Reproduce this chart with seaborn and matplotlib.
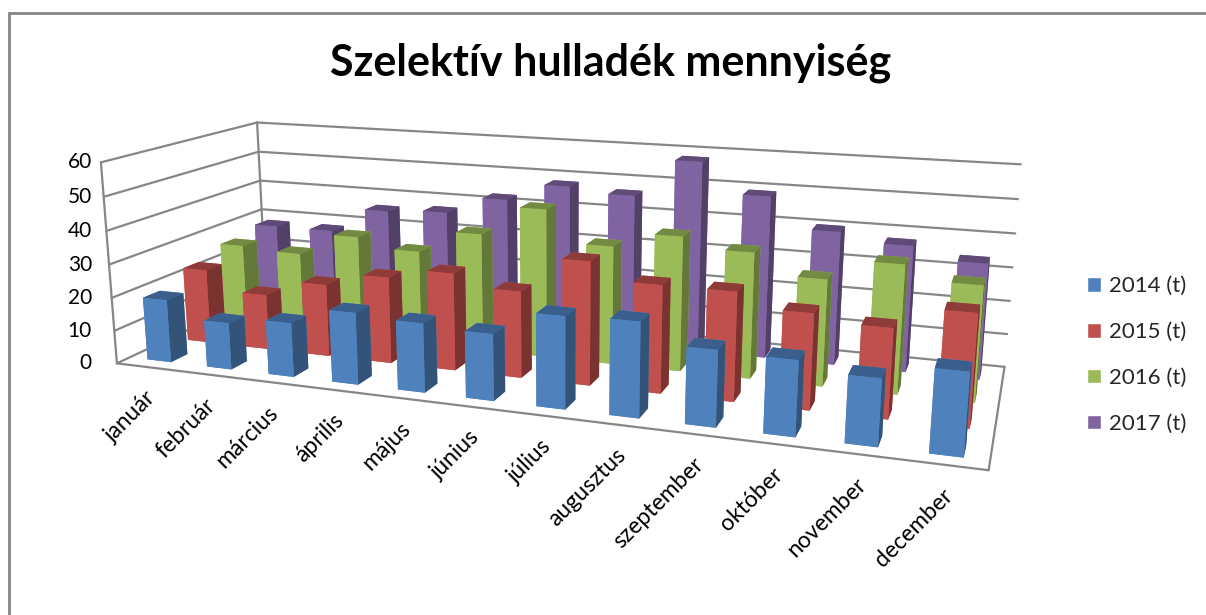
import numpy as np
import matplotlib
matplotlib.use('Agg')
import matplotlib.pyplot as plt
import seaborn as sns
from matplotlib.patches import Patch, Rectangle
from mpl_toolkits.mplot3d import proj3d

# 데이터
months = ['január', 'február', 'március', 'április', 'május', 'június', 'július',
          'augusztus', 'szeptember', 'október', 'november', 'december']
series = ['2014 (t)', '2015 (t)', '2016 (t)', '2017 (t)']
t2014 = [19, 14, 16, 21, 20, 19, 26, 26.5, 21, 20.5, 18, 22]
t2015 = [23, 17, 22, 26, 29, 25.5, 36, 31, 31, 27, 25, 31]
t2016 = [26, 25, 32, 29, 36, 45, 35.5, 40, 37, 31, 37, 33]
t2017 = [28, 28, 36, 37, 42.5, 48, 46.5, 58, 49, 40, 37.5, 34]
values = [t2014, t2015, t2016, t2017]
yticks = [0, 10, 20, 30, 40, 50, 60]

sns.set_theme(style='white')
plt.rcParams['font.family'] = ['Lato', 'DejaVu Sans']
palette = sns.color_palette(['#4F81BD', '#C0504D', '#9BBB59', '#8064A2'])

W, H = 1206, 615
fig = plt.figure(figsize=(W / 100, H / 100), dpi=100)

# 3D 축 (픽셀 위치를 figure 비율로)
S = 900
cx, cy = 559, 349
left = (cx - S * 0.95 / 1.85) / W
bottom = (cy - S * 0.95 / 1.85) / H
ax = fig.add_axes([left, bottom, S / W, S / H], projection='3d', computed_zorder=False)
ax.set_box_aspect((1, 0.34, 0.243))
ax.view_init(elev=14, azim=-70.5)
ax.set_proj_type('persp', focal_length=0.29)
ax.set_xlim(0, 12)
ax.set_ylim(0, 4)
ax.set_zlim(0, 60)
ax.set_axis_off()
ax.patch.set_alpha(0)

# 벽 / 바닥 선
line = dict(color='#868686', lw=1.6, zorder=1, clip_on=False)
for v in yticks:
    ax.plot([0, 0], [0, 4], [v, v], **line)
    ax.plot([0, 12], [4, 4], [v, v], **line)
ax.plot([0, 12], [0, 0], [0, 0], **line)
ax.plot([12, 12], [0, 4], [0, 0], **line)
ax.plot([0, 0], [0, 0], [0, 60], **line)
ax.plot([0, 0], [4, 4], [0, 60], **line)

# 막대 (뒤에서 앞으로)
bw = 0.4
order = 2
for s in [3, 2, 1, 0]:
    c = np.array(palette[s])
    faces = [c, c * 0.74, c, c, c, c * 0.64]
    for i in range(12):
        ax.bar3d(i + 0.5 - bw / 2, s + 0.5 - bw / 2, 0, bw, bw, values[s][i],
                 color=faces, shade=False, linewidth=0, zorder=order, clip_on=False)
        order += 1

fig.canvas.draw()

def to_fig(x, y, z):
    # 3D 좌표 -> figure 비율
    x2, y2, _ = proj3d.proj_transform(x, y, z, ax.get_proj())
    px = ax.transData.transform((x2, y2))
    return px[0] / W, px[1] / H

# 눈금 라벨
for i, m in enumerate(months):
    fx, fy = to_fig(i + 0.5, 0, 0)
    fig.text(fx - 2 / W, fy - 20 / H, m, rotation=45, ha='right', va='top', rotation_mode='anchor',
             fontsize=16.5, color='black')

for v in yticks:
    fx, fy = to_fig(0, 0, v)
    fig.text(92 / W, fy, str(v), ha='right', va='center', fontsize=15, color='black')

fig.text(611 / W, 1 - 63 / H, 'Szelektív hulladék mennyiség', ha='center', va='center',
         fontsize=31, fontweight='bold', color='black')

handles = [Patch(facecolor=palette[i], label=series[i]) for i in range(4)]
fig.legend(handles=handles, loc='center left', bbox_to_anchor=(1078 / W, 1 - 355 / H), frameon=False,
           fontsize=16, handlelength=0.63, handleheight=0.63, labelspacing=1.16, handletextpad=0.36,
           borderaxespad=0)

# 바깥 테두리
fig.add_artist(Rectangle((9 / W, -0.1), 1.2, 1.1 - 13 / H, transform=fig.transFigure,
                         facecolor='none', edgecolor='#868686', lw=2))

fig.savefig('out.png', dpi=100)
